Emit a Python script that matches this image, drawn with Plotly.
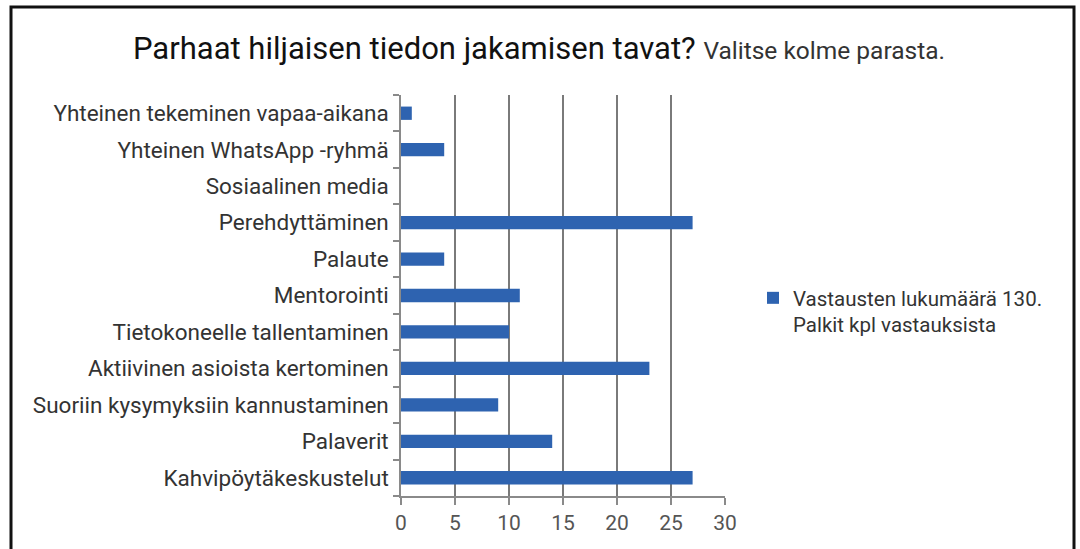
import plotly.graph_objects as go

categories = [
    "Kahvipöytäkeskustelut",
    "Palaverit",
    "Suoriin kysymyksiin kannustaminen",
    "Aktiivinen asioista kertominen",
    "Tietokoneelle tallentaminen",
    "Mentorointi",
    "Palaute",
    "Perehdyttäminen",
    "Sosiaalinen media",
    "Yhteinen WhatsApp -ryhmä",
    "Yhteinen tekeminen vapaa-aikana",
]
values = [27, 14, 9, 23, 10, 11, 4, 27, 0, 4, 1]
series_name = "Vastausten lukumäärä 130.<br>Palkit kpl vastauksista"
x_ticks = [0, 5, 10, 15, 20, 25, 30]

L, R, T, B = 401, 725, 95, 496
W, H = 1080, 549
pw, ph = R - L, B - T

def px_x(p):
    return (p - L) / pw

def px_y(p):
    return (B - p) / ph

fig = go.Figure()
fig.add_trace(go.Bar(
    y=categories, x=values, orientation="h", name=series_name,
    marker=dict(color="#2E63B0", line=dict(width=0)),
    width=0.365, showlegend=True,
))

fig.update_layout(
    width=W, height=H,
    margin=dict(l=L, r=W - R, t=T, b=H - B),
    paper_bgcolor="white", plot_bgcolor="white",
    font=dict(family="Roboto, 'Liberation Sans', sans-serif", color="#333333"),
    title=dict(
        text="Parhaat hiljaisen tiedon jakamisen tavat? <span style='font-size:24.5px;color:#333'>Valitse kolme parasta.</span>",
        x=px_x(539), xref="paper", xanchor="center",
        y=1 - 48 / H, yanchor="middle",
        font=dict(size=31, color="#111111", family="Roboto, sans-serif"),
    ),
    xaxis=dict(
        range=[0, 30], tickvals=x_ticks, showgrid=True, gridcolor="#7a7a7a", gridwidth=1.5,
        showline=True, linecolor="#8a8a8a", linewidth=1.5,
        ticks="outside", ticklen=7, tickcolor="#8a8a8a", tickwidth=1.5,
        tickfont=dict(size=21, color="#555555"), zeroline=False, fixedrange=True,
        ticklabelstandoff=0,
    ),
    yaxis=dict(
        categoryorder="array", categoryarray=categories,
        showline=True, linecolor="#8a8a8a", linewidth=1.5,
        ticks="outside", ticklen=6, tickcolor="#8a8a8a", tickwidth=1.5,
        tickson="boundaries", showgrid=False,
        tickfont=dict(size=22.5, color="#333333"), fixedrange=True,
        ticklabelstandoff=6,
    ),
    legend=dict(
        x=px_x(753), y=px_y(278), xanchor="left", yanchor="top",
        font=dict(size=20.5, color="#333333"), valign="top",
        bgcolor="rgba(0,0,0,0)", itemwidth=30,
    ),
    shapes=[
        dict(type="rect", xref="paper", yref="paper",
             x0=px_x(11), x1=px_x(1074), y0=px_y(7), y1=px_y(600),
             line=dict(color="#111111", width=3), layer="above"),
    ],
)

fig.write_html("out.html")
